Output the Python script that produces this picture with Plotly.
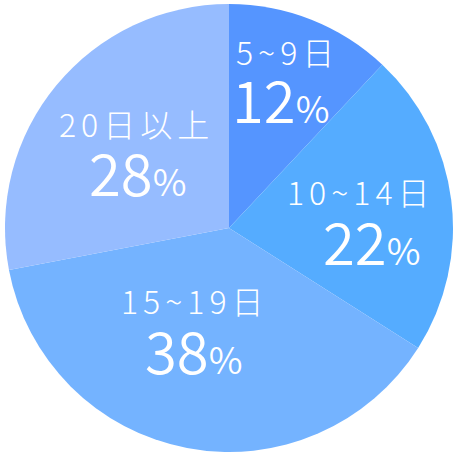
import plotly.graph_objects as go

# === Data ===
categories = ["5~9日", "10~14日", "15~19日", "20日以上"]
shares = [12, 22, 38, 28]
colors = ["#5595FF", "#55ACFF", "#74B3FF", "#96BCFF"]

# label centres in pixels (name line, number line)
label_px = [(287, 51, 281, 98), (361, 191, 372, 240), (195, 300, 194, 349), (136, 123, 138, 171)]

W, H = 458, 458
M = dict(l=5, r=5, t=4, b=6)
PW = W - M["l"] - M["r"]
PH = H - M["t"] - M["b"]

def px(x, y):
    return (x - M["l"]) / PW, 1 - (y - M["t"]) / PH

FONT = "Noto Sans CJK JP"

fig = go.Figure(go.Pie(
    labels=categories,
    values=shares,
    sort=False,
    direction="clockwise",
    rotation=0,
    marker=dict(colors=colors, line=dict(width=0)),
    textinfo="none",
    hoverinfo="skip",
    showlegend=False,
))

annotations = []
for cat, val, (nx, ny, vx, vy) in zip(categories, shares, label_px):
    ax, ay = px(nx, ny)
    annotations.append(dict(
        x=ax, y=ay, xref="paper", yref="paper", showarrow=False,
        xanchor="center", yanchor="middle",
        text=f"<span style='letter-spacing:5px'>{cat}</span>",
        font=dict(family=FONT, size=32, color="white", weight=300),
    ))
    bx, by = px(vx, vy)
    annotations.append(dict(
        x=bx, y=by, xref="paper", yref="paper", showarrow=False,
        xanchor="center", yanchor="middle",
        text=f"<span style='font-size:58px'>{val}</span><span style='font-size:37px'>%</span>",
        font=dict(family=FONT, size=58, color="white", weight=350),
    ))

fig.update_layout(
    width=W, height=H,
    margin=M,
    paper_bgcolor="white",
    plot_bgcolor="white",
    annotations=annotations,
)

fig.write_html("out.html", config={"displayModeBar": False},
               post_script="document.body.style.margin='0';")
